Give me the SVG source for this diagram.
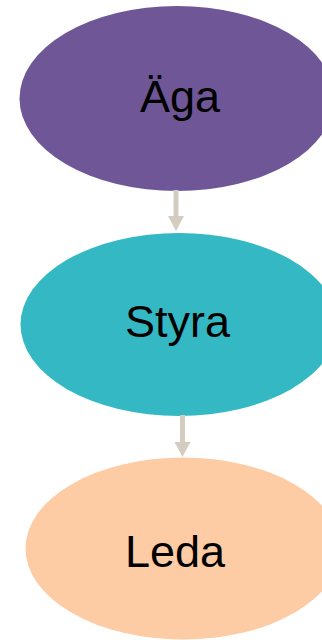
<svg xmlns="http://www.w3.org/2000/svg" width="322" height="640" viewBox="0 0 322 640">
<style>
.lbl{font-family:"Liberation Sans",Arial,sans-serif;font-size:45px;fill:#000;text-anchor:middle}
.conn{stroke:#D4CCC0;stroke-width:5;fill:none}
.head{fill:#D4CCC0}
</style>
<rect width="322" height="640" fill="#fff"/>
<g id="node-aga">
<ellipse cx="177" cy="98.5" rx="157.5" ry="92.5" fill="#6F5696"/>
<text class="lbl" x="180" y="112">Äga</text>
</g>
<g id="node-styra">
<ellipse cx="179" cy="324.5" rx="158.5" ry="91.5" fill="#34B9C4"/>
<text class="lbl" x="177.5" y="337">Styra</text>
</g>
<g id="node-leda">
<ellipse cx="183" cy="548.5" rx="157.5" ry="91" fill="#FDCBA4"/>
<text class="lbl" x="175" y="567">Leda</text>
</g>
<g id="connectors">
<line class="conn" x1="176" y1="190" x2="176" y2="217"/>
<polygon class="head" points="168,216 184,216 176,231"/>
<line class="conn" x1="182.5" y1="415" x2="182.5" y2="443"/>
<polygon class="head" points="174.5,442 190.5,442 182.5,457"/>
</g>
</svg>
